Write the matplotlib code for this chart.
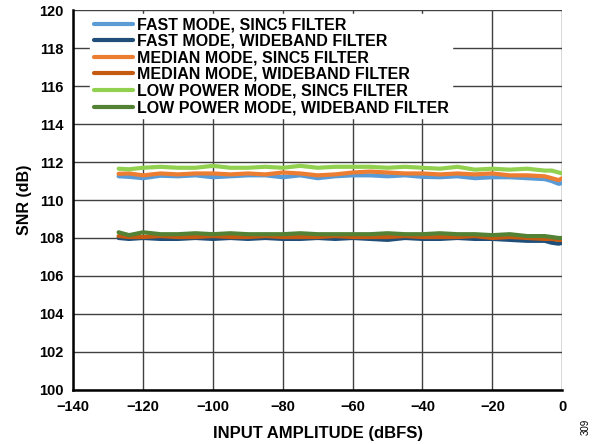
import numpy as np
import matplotlib.pyplot as plt

plt.rcParams['font.family'] = ['Liberation Sans', 'DejaVu Sans']
plt.rcParams['font.weight'] = 'bold'

# input amplitude (dBFS)
amp = [-127, -124, -120, -115, -110, -105, -100, -95, -90, -85, -80, -75, -70, -65,
       -60, -55, -50, -45, -40, -35, -30, -25, -20, -15, -10, -5, -3, -1, 0]

fast_sinc5 = [111.25, 111.22, 111.15, 111.28, 111.25, 111.3, 111.2, 111.25, 111.3, 111.3,
              111.2, 111.3, 111.15, 111.25, 111.3, 111.3, 111.25, 111.3, 111.22, 111.2,
              111.25, 111.15, 111.2, 111.2, 111.15, 111.1, 111.0, 110.85, 110.9]
fast_wide = [108.0, 107.95, 108.0, 107.95, 107.95, 108.0, 107.95, 108.0, 107.95, 108.0,
             107.95, 107.95, 108.0, 107.95, 108.0, 107.95, 107.9, 108.0, 107.95, 107.95,
             108.0, 107.95, 107.95, 107.9, 107.85, 107.85, 107.75, 107.7, 107.75]
median_sinc5 = [111.38, 111.4, 111.3, 111.4, 111.35, 111.4, 111.4, 111.35, 111.4, 111.35,
                111.45, 111.4, 111.3, 111.35, 111.45, 111.5, 111.45, 111.4, 111.4, 111.35,
                111.4, 111.35, 111.4, 111.3, 111.3, 111.25, 111.15, 111.05, 111.15]
median_wide = [108.1, 108.05, 108.05, 108.1, 108.05, 108.05, 108.1, 108.05, 108.05, 108.1,
               108.05, 108.05, 108.05, 108.1, 108.05, 108.05, 108.05, 108.1, 108.05, 108.05,
               108.05, 108.1, 108.0, 108.05, 108.0, 107.95, 107.95, 107.9, 107.9]
lp_sinc5 = [111.65, 111.62, 111.7, 111.75, 111.7, 111.7, 111.8, 111.7, 111.7, 111.75,
            111.7, 111.8, 111.7, 111.75, 111.75, 111.75, 111.7, 111.75, 111.7, 111.65,
            111.75, 111.6, 111.65, 111.6, 111.65, 111.55, 111.55, 111.45, 111.4]
lp_wide = [108.3, 108.15, 108.3, 108.2, 108.2, 108.25, 108.2, 108.25, 108.2, 108.2,
           108.2, 108.25, 108.2, 108.2, 108.2, 108.2, 108.25, 108.2, 108.2, 108.25,
           108.2, 108.2, 108.15, 108.2, 108.1, 108.1, 108.05, 108.0, 108.0]

labels = ["FAST MODE, SINC5 FILTER", "FAST MODE, WIDEBAND FILTER",
          "MEDIAN MODE, SINC5 FILTER", "MEDIAN MODE, WIDEBAND FILTER",
          "LOW POWER MODE, SINC5 FILTER", "LOW POWER MODE, WIDEBAND FILTER"]
series = [fast_sinc5, fast_wide, median_sinc5, median_wide, lp_sinc5, lp_wide]
colors = ["#5B9BD5", "#1F4E79", "#ED7D31", "#C55A11", "#92D050", "#548235"]

fig = plt.figure(figsize=(6, 4.44), dpi=100)
ax = fig.add_axes([0.122, 0.122, 0.815, 0.855])

for y, c, lab in zip(series, colors, labels):
    ax.plot(amp, y, color=c, linewidth=3.0, label=lab, solid_capstyle='round')

ax.set_xlim(-140, 0)
ax.set_ylim(100, 120)
ax.set_xticks(np.arange(-140, 1, 20))
ax.set_yticks(np.arange(100, 121, 2))
ax.set_xticklabels(["\u2212%d" % -v if v < 0 else "0" for v in range(-140, 1, 20)])
ax.grid(True, color="#404040", linewidth=1.0)
ax.set_axisbelow(True)
ax.tick_params(length=0, labelsize=10.5, pad=7)
for s in ['top', 'right']:
    ax.spines[s].set_visible(False)
for s in ['left', 'bottom']:
    ax.spines[s].set_linewidth(1.8)
    ax.spines[s].set_color("black")

ax.set_xlabel("INPUT AMPLITUDE (dBFS)", fontsize=12, fontweight='bold', labelpad=9)
ax.set_ylabel("SNR (dB)", fontsize=11.5, fontweight='bold', labelpad=5)

leg = ax.legend(loc='upper left', bbox_to_anchor=(0.035, 0.99), frameon=True,
                fontsize=11.5, handlelength=2.45, labelspacing=0.1,
                borderpad=0.2, handletextpad=0.25, borderaxespad=0.0)
leg.get_frame().set_facecolor("white")
leg.get_frame().set_edgecolor("white")
leg.get_frame().set_alpha(1.0)
leg.get_frame().set_boxstyle("square", pad=0)

fig.text(0.985, 0.02, "309", rotation=90, fontsize=7, fontweight='normal',
         ha='right', va='bottom')

fig.savefig("out.png", dpi=100)
